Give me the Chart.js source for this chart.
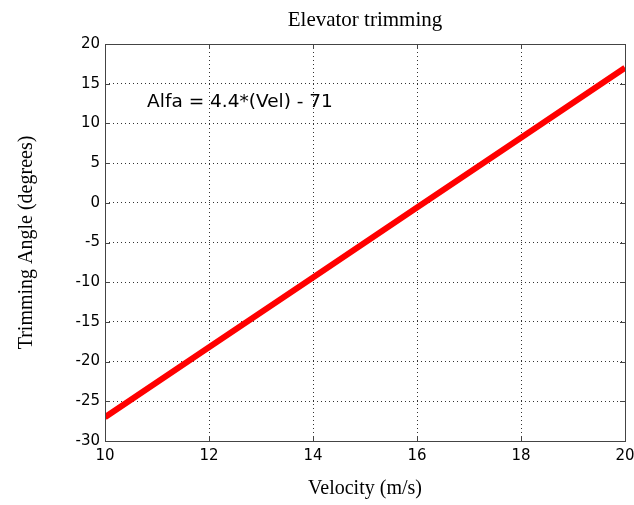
<!DOCTYPE html>
<html>
<head>
<meta charset="utf-8">
<script src="https://cdn.jsdelivr.net/npm/chart.js@4.4.1/dist/chart.umd.min.js"></script>
<style>
  html, body { margin: 0; padding: 0; background: #fff; }
  #wrap { width: 634px; height: 505px; }
</style>
</head>
<body>
<div id="wrap"><canvas id="c" width="634" height="505"></canvas></div>
<script>
// values
const velocity = [10, 12, 14, 16, 18, 20];
const angle    = [-27, -18.2, -9.4, -0.6, 8.2, 17];
const xTicks   = [10, 12, 14, 16, 18, 20];
const yTicks   = [-30, -25, -20, -15, -10, -5, 0, 5, 10, 15, 20];
const formulaText = 'Alfa = 4.4*(Vel) - 71';

const TICK_FONT = { family: "'DejaVu Sans', Verdana, sans-serif", size: 15 };
const SERIF = "'Liberation Serif', 'Times New Roman', serif";

// MATLAB-ish box: inward ticks on all sides + frame + formula text
const boxPlugin = {
  id: 'box',
  afterDatasetsDraw(chart) {
    const { ctx, chartArea: a, scales } = chart;
    ctx.save();
    ctx.strokeStyle = '#444';
    ctx.lineWidth = 1;
    ctx.beginPath();
    xTicks.forEach(v => {
      const px = Math.round(scales.x.getPixelForValue(v)) + 0.5;
      ctx.moveTo(px, a.bottom); ctx.lineTo(px, a.bottom - 5);
      ctx.moveTo(px, a.top);    ctx.lineTo(px, a.top + 5);
    });
    yTicks.forEach(v => {
      const py = Math.round(scales.y.getPixelForValue(v)) + 0.5;
      ctx.moveTo(a.left, py);  ctx.lineTo(a.left + 5, py);
      ctx.moveTo(a.right, py); ctx.lineTo(a.right - 5, py);
    });
    ctx.stroke();
    ctx.strokeRect(Math.round(a.left) + 0.5, Math.round(a.top) + 0.5,
                   Math.round(a.right - a.left), Math.round(a.bottom - a.top));

    ctx.fillStyle = '#000';
    ctx.font = `18.5px ${TICK_FONT.family}`;
    ctx.textBaseline = 'middle';
    ctx.textAlign = 'left';
    ctx.fillText(formulaText, scales.x.getPixelForValue(10.81), scales.y.getPixelForValue(12.7));
    ctx.restore();
  }
};

const gridStyle = {
  color: '#333',
  lineWidth: 1,
  drawTicks: false,
};

new Chart(document.getElementById('c'), {
  type: 'line',
  data: {
    datasets: [{
      data: velocity.map((v, i) => ({ x: v, y: angle[i] })),
      borderColor: '#ff0000',
      borderWidth: 6,
      pointRadius: 0,
      fill: false,
      tension: 0,
    }],
  },
  options: {
    responsive: false,
    animation: false,
    events: [],
    layout: { padding: { top: 0, right: 9, bottom: 0, left: 0 } },
    plugins: {
      legend: { display: false },
      tooltip: { enabled: false },
      title: {
        display: true,
        text: 'Elevator trimming',
        fullSize: false,
        color: '#000',
        font: { family: SERIF, size: 21, weight: 'normal', lineHeight: 1.2 },
        padding: { top: 8, bottom: 10.8 },
      },
    },
    scales: {
      x: {
        type: 'linear',
        min: 10, max: 20,
        border: { display: false, dash: [1, 3] },
        grid: gridStyle,
        afterBuildTicks: s => { s.ticks = xTicks.map(v => ({ value: v })); },
        afterFit: s => { s.height = 64; s.paddingLeft = 0; s.paddingRight = 0; },
        ticks: { color: '#000', font: TICK_FONT, padding: 6, maxRotation: 0 },
        title: {
          display: true, text: 'Velocity (m/s)', color: '#000',
          font: { family: SERIF, size: 20, lineHeight: 1.2 },
          padding: { top: 0, bottom: 4 },
        },
      },
      y: {
        type: 'linear',
        min: -30, max: 20,
        border: { display: false, dash: [1, 3] },
        grid: gridStyle,
        afterBuildTicks: s => { s.ticks = yTicks.map(v => ({ value: v })); },
        afterFit: s => { s.width = 105; s.paddingTop = 0; s.paddingBottom = 0; },
        ticks: { color: '#000', font: TICK_FONT, padding: 5 },
        title: {
          display: true, text: 'Trimming Angle (degrees)', color: '#000',
          font: { family: SERIF, size: 20, lineHeight: 1.2 },
          padding: { top: 15, bottom: 0 },
        },
      },
    },
  },
  plugins: [boxPlugin],
});
</script>
</body>
</html>
